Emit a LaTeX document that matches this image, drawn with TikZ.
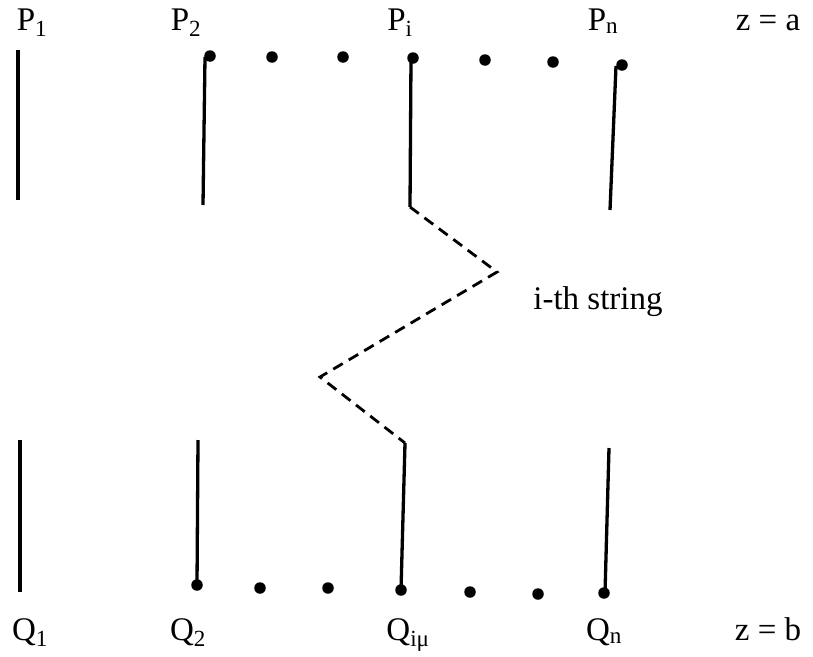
\documentclass[tikz,border=0pt]{standalone}
\usepackage{fontspec}
\setmainfont{Liberation Serif}
\begin{document}
\begin{tikzpicture}[x=1pt,y=-1pt,
  lbl/.style={font=\fontsize{33}{38}\selectfont, inner sep=0pt, anchor=base},
  dotn/.style={circle, fill=black, inner sep=0pt, minimum size=11.5pt},
  strg/.style={line width=3.3pt},
  zig/.style={line width=2.8pt, dash pattern=on 11pt off 7pt}]
\useasboundingbox (0,0) rectangle (813,656);
% top labels
\node[lbl] (P1) at (32,30) {P\textsubscript{1}};
\node[lbl] (P2) at (186,30) {P\textsubscript{2}};
\node[lbl] (Pi) at (400,30) {P\textsubscript{i}};
\node[lbl] (Pn) at (603,30) {P\textsubscript{n}};
\node[lbl] (za) at (768,30) {z = a};
% bottom labels
\node[lbl] (Q1) at (30,640) {Q\textsubscript{1}};
\node[lbl] (Q2) at (188,640) {Q\textsubscript{2}};
\node[lbl] (Qi) at (408,640) {Q\textsubscript{iμ}};
\node[lbl] (Qn) at (604,640) {Q\textsubscript{n}};
\node[lbl] (zb) at (768,640) {z = b};
\node[lbl] (str) at (598,309) {i-th string};
% top strings
\coordinate (t1a) at (18,50);  \coordinate (t1b) at (18,200);
\coordinate (t2a) at (205,57); \coordinate (t2b) at (203,205);
\coordinate (tia) at (411,58); \coordinate (tib) at (410,207);
\coordinate (tna) at (616,66); \coordinate (tnb) at (610,210);
\draw[strg] (t1a) -- (t1b);
\draw[strg] (t2a) -- (t2b);
\draw[strg] (tia) -- (tib);
\draw[strg] (tna) -- (tnb);
\node[dotn] (d2) at (210,56) {};
\node[dotn] (da) at (272,57) {};
\node[dotn] (db) at (343,57) {};
\node[dotn] (di) at (413,58) {};
\node[dotn] (dc) at (485,60) {};
\node[dotn] (dd) at (553,62) {};
\node[dotn] (dn) at (622,65) {};
% zigzag
\coordinate (k1) at (497,272);
\coordinate (k2) at (320,377);
\coordinate (bia) at (405,443); \coordinate (bib) at (401,590);
\draw[zig] (tib) -- (k1) -- (k2) -- (bia);
% bottom strings
\coordinate (b1a) at (20,440); \coordinate (b1b) at (20,592);
\coordinate (b2a) at (198,440); \coordinate (b2b) at (197,585);
\coordinate (bna) at (609,448); \coordinate (bnb) at (605,593);
\draw[strg] (b1a) -- (b1b);
\draw[strg] (b2a) -- (b2b);
\draw[strg] (bia) -- (bib);
\draw[strg] (bna) -- (bnb);
\node[dotn] (e2) at (197,585) {};
\node[dotn] (ea) at (260,588) {};
\node[dotn] (eb) at (328,588) {};
\node[dotn] (ei) at (401,590) {};
\node[dotn] (ec) at (470,592) {};
\node[dotn] (ed) at (538,594) {};
\node[dotn] (en) at (604,593) {};
\end{tikzpicture}
\end{document}
